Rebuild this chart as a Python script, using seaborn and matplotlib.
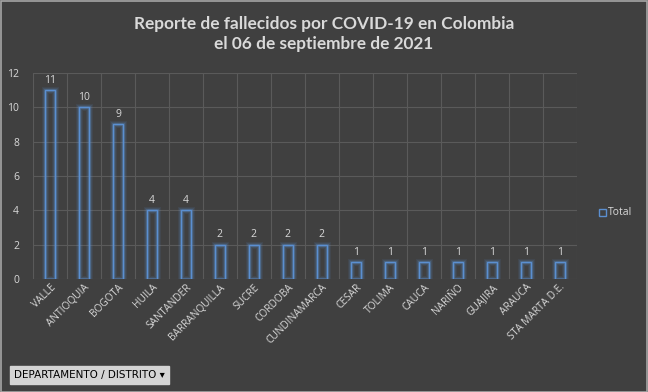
import matplotlib
matplotlib.use("Agg")
import matplotlib.pyplot as plt
import seaborn as sns
import pandas as pd
from matplotlib.patches import Rectangle

categories = ["VALLE", "ANTIOQUIA", "BOGOTA", "HUILA", "SANTANDER", "BARRANQUILLA",
              "SUCRE", "CORDOBA", "CUNDINAMARCA", "CESAR", "TOLIMA", "CAUCA",
              "NARIÑO", "GUAJIRA", "ARAUCA", "STA MARTA D.E."]
values = [11, 10, 9, 4, 4, 2, 2, 2, 2, 1, 1, 1, 1, 1, 1, 1]
y_ticks = [0, 2, 4, 6, 8, 10, 12]
title_text = "Reporte de fallecidos por COVID-19 en Colombia\nel 06 de septiembre de 2021"
legend_label = "Total"
button_text = "DEPARTAMENTO / DISTRITO \u25BE"

df = pd.DataFrame({"cat": categories, "val": values})

BG = "#404040"
TXT = "#d9d9d9"
BLUE = "#5b8fd0"
GRID = "#5a5a5a"

sns.set_theme(style="dark")
plt.rcParams["font.family"] = ["Open Sans", "DejaVu Sans"]

fig = plt.figure(figsize=(6.48, 3.92), dpi=100, facecolor=BG)
ax = fig.add_axes([0.051, 0.288, 0.839, 0.526])
ax.set_facecolor(BG)

# glow layers
for lw, a in [(5, 0.10), (3.5, 0.15), (2.2, 0.25)]:
    sns.barplot(data=df, x="cat", y="val", ax=ax, width=0.3, fill=False,
                color=BLUE, linewidth=lw, alpha=a, errorbar=None)
sns.barplot(data=df, x="cat", y="val", ax=ax, width=0.3, fill=False,
            color=BLUE, linewidth=1.0, errorbar=None)

n = len(categories)
ax.set_xlim(-0.5, n - 0.5)
ax.set_ylim(0, 12)
ax.set_yticks(y_ticks)
ax.set_xlabel("")
ax.set_ylabel("")

for i, v in enumerate(values):
    ax.text(i, v + 0.25, str(v), ha="center", va="bottom", color=TXT, fontsize=7.5)

ax.grid(False)
for yv in y_ticks:
    ax.axhline(yv, color=GRID, lw=0.8, zorder=0)
for b in range(n + 1):
    ax.axvline(b - 0.5, color=GRID, lw=0.8, zorder=0)

for s in ax.spines.values():
    s.set_visible(False)

ax.tick_params(axis="y", colors=TXT, labelsize=7.5, length=0, pad=10)
ax.tick_params(axis="x", colors=TXT, labelsize=7.3, length=0, pad=2)
plt.setp(ax.get_xticklabels(), rotation=45, ha="right", rotation_mode="anchor", color=TXT)

fig.text(0.5, 0.958, title_text, ha="center", va="top", color=TXT, fontsize=12.4,
         fontweight="bold", linespacing=1.3, family=["Lato", "DejaVu Sans"])

# legend
fig.patches.append(Rectangle((599 / 648, 1 - 216 / 392), 7 / 648, 7 / 392,
                             transform=fig.transFigure, fill=False, edgecolor=BLUE, lw=1))
fig.text(608 / 648, 1 - 212 / 392, legend_label, ha="left", va="center", color=TXT, fontsize=7.5)

# button
fig.text(14 / 648, 1 - 375 / 392, button_text, ha="left", va="center", color="#000000",
         fontsize=7.5, family=["DejaVu Sans"],
         bbox=dict(boxstyle="square,pad=0.35", facecolor="#d4d4d4", edgecolor="#d4d4d4"))

# outer border
fig.patches.append(Rectangle((0.5 / 648, 0.5 / 392), 1 - 1.5 / 648, 1 - 1.5 / 392,
                             transform=fig.transFigure, fill=False, edgecolor="#a6a6a6", lw=1.2))

fig.savefig("out.png", dpi=100, facecolor=BG)
